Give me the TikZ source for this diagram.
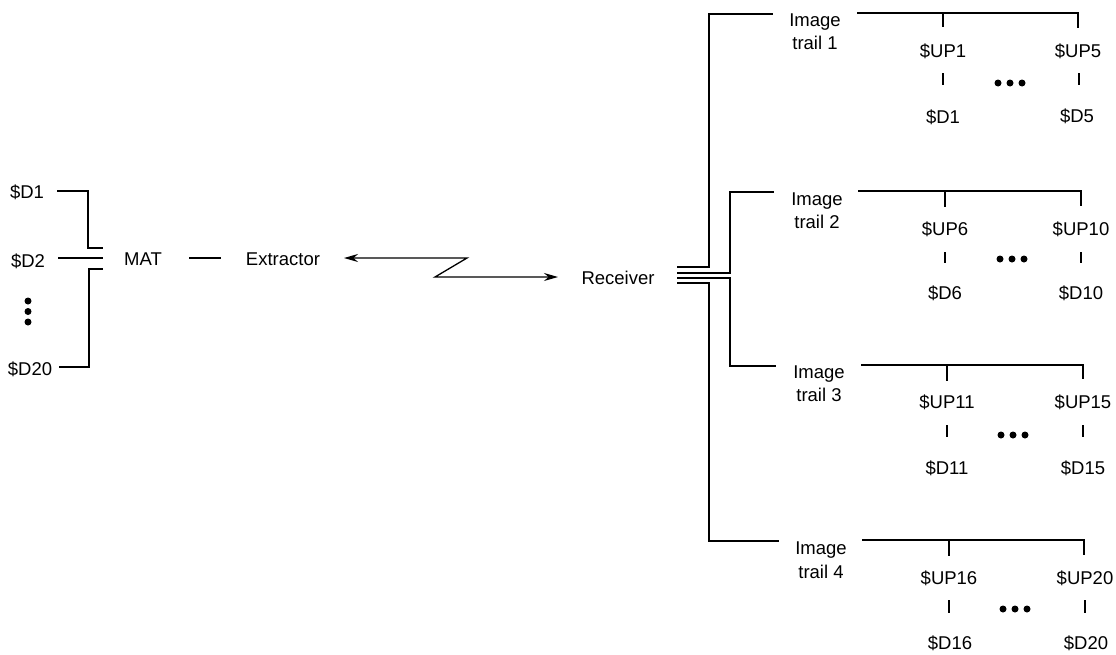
\documentclass[tikz,border=0pt]{standalone}
\usepackage{fontspec}
\setmainfont{Liberation Sans}
\usetikzlibrary{arrows.meta}
\begin{document}
\begin{tikzpicture}[x=1pt,y=-1pt,
  lbl/.style={font=\fontsize{18.5}{20}\selectfont, inner sep=0pt, anchor=center},
  ln/.style={line width=2.2pt, line cap=rect},
  tk/.style={line width=2pt},
  arr/.style={line width=1.3pt, {Stealth[length=14pt,width=8pt]}-{Stealth[length=14pt,width=8pt]}},
  dot/.style={circle, fill=black, inner sep=0pt, minimum size=7pt}]
\useasboundingbox (0,0) rectangle (1116,654);
% ---------- left side ----------
\node[lbl] (d1) at (27,192) {\$D1};
\node[lbl] (d2) at (28,261) {\$D2};
\node[lbl] (d20) at (30,369) {\$D20};
\node[dot] (v1) at (28,301) {};
\node[dot] (v2) at (28,311.5) {};
\node[dot] (v3) at (28,322) {};
\coordinate (a1) at (58,191);
\coordinate (a2) at (88,191);
\coordinate (a3) at (88,248);
\coordinate (a4) at (102,248);
\draw[ln] (a1) -- (a2) -- (a3) -- (a4);
\coordinate (b1) at (59,258);
\coordinate (b2) at (102,258);
\draw[ln] (b1) -- (b2);
\coordinate (c1) at (102,269);
\coordinate (c2) at (89,269);
\coordinate (c3) at (89,367);
\coordinate (c4) at (60,367);
\draw[ln] (c1) -- (c2) -- (c3) -- (c4);
\node[lbl] (mat) at (143,259) {MAT};
\node[lbl] (ext) at (283,259) {Extractor};
\coordinate (m1) at (189,258);
\coordinate (m2) at (221,258);
\draw[tk] (m1) -- (m2);
% ---------- link ----------
\node[lbl] (rec) at (618,278) {Receiver};
\coordinate (z1) at (344,258);
\coordinate (z2) at (467,258);
\coordinate (z3) at (435,277);
\coordinate (z4) at (558,277);
\draw[arr] (z1) -- (z2) -- (z3) -- (z4);
% ---------- receiver fan ----------
\coordinate (r1) at (678,267);
\coordinate (r2) at (678,273);
\coordinate (r3) at (678,278);
\coordinate (r4) at (678,283);
\draw[ln] (r1) -- (709,267) |- (772,14);
\draw[ln] (r2) -- (730,273) |- (773,192);
\draw[ln] (r3) -- (730,278) |- (775,366);
\draw[ln] (r4) -- (709,283) |- (778,541);
% ---------- trail 1 ----------
\node[lbl] (i1) at (815,22) {Image};
\node[lbl] (t1) at (815,43) {trail 1};
\draw[ln] (858,13) -- (1078,13) -- (1078,27);
\draw[ln] (943,13) -- (943,26);
\node[lbl] (u1) at (943,51) {\$UP1};
\node[lbl] (u5) at (1078,51) {\$UP5};
\draw[tk] (943,73) -- (943,85);
\draw[tk] (1079,73) -- (1079,85);
\node[dot] at (998,83) {}; \node[dot] at (1010,83) {}; \node[dot] at (1022,83) {};
\node[lbl] (e1) at (943,117) {\$D1};
\node[lbl] (e5) at (1077,116) {\$D5};
% ---------- trail 2 ----------
\node[lbl] (i2) at (817,201) {Image};
\node[lbl] (t2) at (817,222) {trail 2};
\draw[ln] (859,191) -- (1081,191) -- (1081,205);
\draw[ln] (945,191) -- (945,206);
\node[lbl] (u6) at (945,229) {\$UP6};
\node[lbl] (u10) at (1081,229) {\$UP10};
\draw[tk] (945,252) -- (945,263);
\draw[tk] (1081,252) -- (1081,263);
\node[dot] at (1000,259) {}; \node[dot] at (1012,259) {}; \node[dot] at (1024,259) {};
\node[lbl] (e6) at (945,293) {\$D6};
\node[lbl] (e10) at (1081,293) {\$D10};
% ---------- trail 3 ----------
\node[lbl] (i3) at (819,374) {Image};
\node[lbl] (t3) at (819,395) {trail 3};
\draw[ln] (862,365) -- (1083,365) -- (1083,378);
\draw[ln] (947,365) -- (947,380);
\node[lbl] (u11) at (947,402) {\$UP11};
\node[lbl] (u15) at (1083,402) {\$UP15};
\draw[tk] (947,425) -- (947,437);
\draw[tk] (1083,425) -- (1083,437);
\node[dot] at (1001,435) {}; \node[dot] at (1013,435) {}; \node[dot] at (1025,435) {};
\node[lbl] (e11) at (947,468) {\$D11};
\node[lbl] (e15) at (1083,468) {\$D15};
% ---------- trail 4 ----------
\node[lbl] (i4) at (821,550) {Image};
\node[lbl] (t4) at (821,572) {trail 4};
\draw[ln] (863,540) -- (1084,540) -- (1084,554);
\draw[ln] (949,540) -- (949,555);
\node[lbl] (u16) at (949,578) {\$UP16};
\node[lbl] (u20) at (1085,578) {\$UP20};
\draw[tk] (949,600) -- (949,613);
\draw[tk] (1085,600) -- (1085,613);
\node[dot] at (1003,609) {}; \node[dot] at (1015,609) {}; \node[dot] at (1027,609) {};
\node[lbl] (e16) at (950,643) {\$D16};
\node[lbl] (e20) at (1086,643) {\$D20};
\end{tikzpicture}
\end{document}
